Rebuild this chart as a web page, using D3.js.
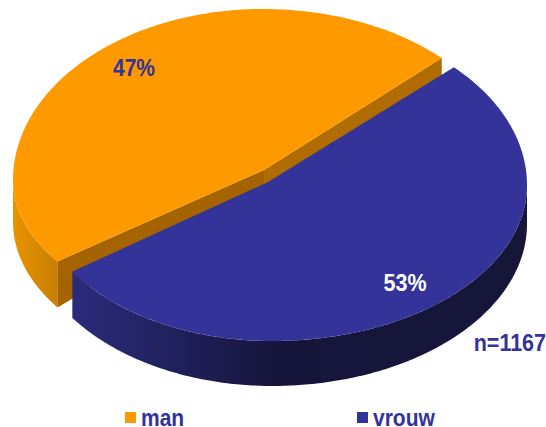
<!DOCTYPE html>
<html><head><meta charset="utf-8">
<script src="https://cdn.jsdelivr.net/npm/d3@7"></script>
<style>html,body{margin:0;padding:0;background:#fff}svg{display:block}text{font-family:"Liberation Sans",Arial,sans-serif;font-weight:bold}</style>
</head><body><svg id="c" width="546" height="427"></svg>
<script>
const categories = ["man","vrouw"];
const shares = [47,53];
const percentLabels = ["47%","53%"];
const note = "n=1167";
const topColors = ["#ff9900","#333399"];

const svg = d3.select("#c");
const rad = Math.PI/180;
// man runs anticlockwise over the back, vrouw clockwise over the front
const arcMan = d3.pie().sort(null).value(d=>d).startAngle(-45.5*rad).endAngle(-45.5*rad-2*Math.PI)(shares)[0];
const arcVrouw = d3.pie().sort(null).value(d=>d).startAngle(-44.5*rad).endAngle(-44.5*rad+2*Math.PI)(shares.slice().reverse())[0];

const topMan = {cx:263,cy:180,rxL:250,rxR:255,ryT:171,ryB:143};
const botMan = {cx:263,cy:222,rxL:250,rxR:255,ryT:171,ryB:150};
const apexMan = [264,170];
const topVrouw = {cx:272,cy:185,rxL:240,rxR:255,ryT:168,ryB:156};
const botVrouw = {cx:272,cy:224,rxL:245,rxR:255,ryT:168,ryB:162};
const apexVrouw = [268,182];

function pt(g,a){
  const c=Math.cos(a), s=Math.sin(a);
  return [g.cx+(c<0?g.rxL:g.rxR)*c, g.cy+(s<0?g.ryT:g.ryB)*s];
}
const line=d3.line();
function rim(g,a0,a1){
  const n=200;
  return d3.range(n+1).map(i=>pt(g,a0+(a1-a0)*i/n));
}
const defs=svg.append("defs");
function grad(id,stops,x1,x2){
  const lg=defs.append("linearGradient").attr("id",id).attr("gradientUnits","userSpaceOnUse")
    .attr("x1",x1).attr("x2",x2).attr("y1",0).attr("y2",0);
  stops.forEach(s=>lg.append("stop").attr("offset",s[0]).attr("stop-color",s[1]));
}
grad("sideA",[[0,"#e89400"],[1,"#c87d00"]],13,59);
grad("sideB",[[0,"#2b2b7c"],[0.45,"#15153c"],[1,"#161639"]],72,526);

// man: outer wall on the left, two cut faces
const manRim = rim(topMan,arcMan.startAngle,arcMan.endAngle);
const manStart = manRim[0], manEnd = manRim[manRim.length-1];
const manBotEnd = Math.PI-Math.acos((manEnd[0]-botMan.cx)/-botMan.rxL);
const manWallTop = rim(topMan,Math.PI,2*Math.PI+arcMan.endAngle);
const manWallBot = rim(botMan,Math.PI,manBotEnd);
svg.append("path").attr("d",line(manWallTop.concat(manWallBot.slice().reverse()))+"Z").attr("fill","url(#sideA)");
const manBottomCorner = manWallBot[manWallBot.length-1];
svg.append("path").attr("d",line([apexMan,manEnd,manBottomCorner,[apexMan[0],apexMan[1]+15]])+"Z").attr("fill","#a56400");
svg.append("path").attr("d",line([apexMan,manStart,[manStart[0],manStart[1]+18],[apexMan[0],apexMan[1]+15]])+"Z").attr("fill","#b06c00");
svg.append("path").attr("d",line([apexMan].concat(manRim))+"Z").attr("fill",topColors[0]);

// vrouw: outer wall along the front
const vrouwRim = rim(topVrouw,arcVrouw.startAngle,arcVrouw.endAngle);
const vrouwEnd = vrouwRim[vrouwRim.length-1];
const vrouwBotEnd = Math.acos((vrouwEnd[0]-botVrouw.cx)/botVrouw.rxL);
const vWallTop = rim(topVrouw,0,arcVrouw.endAngle);
const vWallBot = rim(botVrouw,0,vrouwBotEnd);
svg.append("path").attr("d",line(vWallTop.concat(vWallBot.slice().reverse()))+"Z").attr("fill","url(#sideB)");
svg.append("path").attr("d",line([apexVrouw].concat(vrouwRim))+"Z").attr("fill",topColors[1]);

// texts are slightly taller than wide in the reference
function label(x,y,size,fill,anchor,str){
  svg.append("text").attr("transform",`translate(${x},${y}) scale(1,1.12)`)
    .attr("text-anchor",anchor).attr("font-size",size).attr("fill",fill).text(str);
}
label(134,76,21,"#333399","middle",percentLabels[0]);
label(405,291,21.5,"#ffffff","middle",percentLabels[1]);
label(546,351,21.5,"#333399","end",note);

const legendX=d3.scaleOrdinal().domain(categories).range([125,357]);
categories.forEach((c,i)=>{
  svg.append("rect").attr("x",legendX(c)).attr("y",412).attr("width",11).attr("height",11).attr("fill",topColors[i]);
  label(legendX(c)+16,426,21,"#333399","start",c);
});
</script></body></html>
